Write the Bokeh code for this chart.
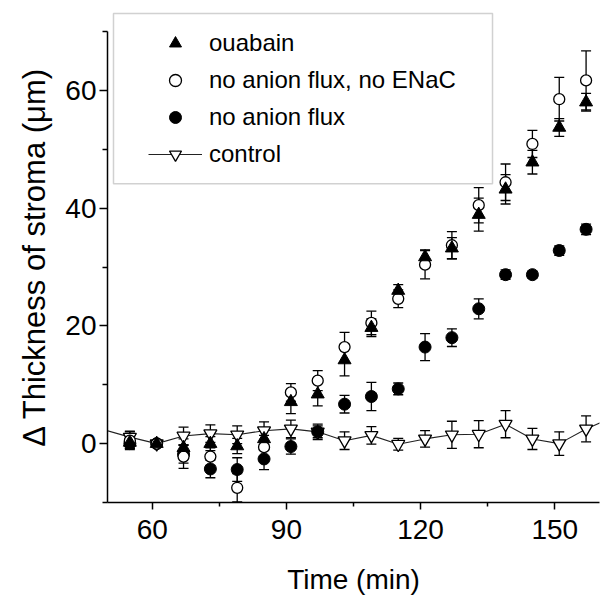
from bokeh.plotting import figure
from bokeh.models import (Range1d, FixedTicker, Whisker, TeeHead, ColumnDataSource,
                          Legend, LegendItem, BoxAnnotation)
from bokeh.embed import file_html
from bokeh.resources import INLINE

# ---- data ----
times = [55, 61, 67, 73, 79, 85, 91, 97, 103, 109, 115, 121, 127, 133, 139, 145, 151, 157]

ouabain = [0.2, 0.0, -0.7, 0.0, -0.4, 0.8, 7.1, 8.4, 14.2, 19.7, 26.0, 31.7, 33.2, 38.9, 43.2, 47.8, 53.7, 58.0]
ouabain_err = [1.0, 0.5, 1.5, 1.2, 1.3, 1.5, 2.0, 2.0, 2.7, 1.5, 1.0, 1.2, 1.8, 2.8, 2.5, 2.0, 1.5, 1.5]

no_anion_no_enac = [0.5, 0.0, -2.2, -2.2, -7.5, -0.6, 8.7, 10.7, 16.4, 20.5, 24.6, 30.4, 33.7, 40.5, 44.4, 50.9, 58.5, 61.7]
no_anion_no_enac_err = [1.5, 0.5, 2.0, 1.5, 2.4, 2.0, 1.5, 1.7, 2.5, 2.0, 1.5, 2.4, 2.3, 3.0, 3.1, 2.3, 3.7, 5.0]

no_anion = [0.0, 0.0, -1.8, -4.3, -4.4, -2.6, -0.5, 2.0, 6.7, 8.0, 9.3, 16.4, 18.0, 22.9, 28.7, 28.7, 32.8, 36.4]
no_anion_err = [0.8, 0.5, 1.5, 1.5, 2.0, 1.8, 1.3, 1.0, 1.5, 2.4, 1.0, 2.3, 1.5, 1.7, 0.8, 0.6, 0.8, 0.9]

control = [1.1, 0.0, 1.3, 1.7, 1.5, 2.2, 2.5, 2.0, 0.5, 1.4, -0.1, 0.8, 1.5, 1.6, 3.3, 0.8, 0.0, 2.5]
control_err = [1.0, 0.5, 1.5, 1.5, 1.5, 1.5, 1.5, 1.3, 1.5, 1.5, 1.0, 1.4, 2.3, 2.3, 2.3, 1.8, 2.0, 2.2]
# the control trace continues beyond the axis limits on both sides
control_line_times = [49] + times + [163]
control_line = [2.4] + control + [4.5]

labels = ["ouabain", "no anion flux, no ENaC", "no anion flux", "control"]
x_ticks = [60, 90, 120, 150]
x_minor = [75, 105, 135]
y_ticks = [0, 20, 40, 60]
y_minor = [-10, 10, 30, 50, 70]
x_lim = (50, 160)
y_lim = (-10, 70)

FONT = "Liberation Sans"

p = figure(width=606, height=606, output_backend="svg", toolbar_location=None,
           x_range=Range1d(*x_lim), y_range=Range1d(y_lim[0], 73.4),
           min_border_left=107, min_border_right=7, min_border_top=11, min_border_bottom=104)
p.outline_line_color = None
p.xgrid.visible = False
p.ygrid.visible = False
p.background_fill_color = "white"

for ax in (p.xaxis[0], p.yaxis[0]):
    ax.axis_line_width = 1.5
    ax.axis_line_color = "black"
    ax.major_tick_line_color = "black"
    ax.minor_tick_line_color = "black"
    ax.major_tick_line_width = 1.5
    ax.minor_tick_line_width = 1.5
    ax.major_tick_in = 0
    ax.minor_tick_in = 0
    ax.major_label_text_font = FONT
    ax.major_label_text_font_size = "28px"
    ax.major_label_text_color = "black"
    ax.axis_label_text_font = FONT
    ax.axis_label_text_font_style = "normal"
    ax.axis_label_text_color = "black"

p.xaxis.ticker = FixedTicker(ticks=x_ticks, minor_ticks=x_minor)
p.yaxis.ticker = FixedTicker(ticks=y_ticks, minor_ticks=y_minor)
p.yaxis.bounds = y_lim
p.xaxis.major_tick_out = 7
p.xaxis.minor_tick_out = 4
p.yaxis.major_tick_out = 8
p.yaxis.minor_tick_out = 5
p.xaxis.major_label_standoff = 10
p.yaxis.major_label_standoff = 3
p.xaxis.axis_label = "Time (min)"
p.xaxis.axis_label_text_font_size = "28px"
p.xaxis.axis_label_standoff = 22
p.yaxis.axis_label = "\u0394 Thickness of stroma (\u03bcm)"
p.yaxis.axis_label_text_font_size = "31px"
p.yaxis.axis_label_standoff = 10

def src(vals, errs):
    return ColumnDataSource(dict(x=times, y=vals,
                                 upper=[v + e for v, e in zip(vals, errs)],
                                 lower=[v - e for v, e in zip(vals, errs)]))

s_ctrl = src(control, control_err)
s_fill = src(no_anion, no_anion_err)
s_open = src(no_anion_no_enac, no_anion_no_enac_err)
s_oua = src(ouabain, ouabain_err)

for s in (s_ctrl, s_fill, s_open, s_oua):
    w = Whisker(source=s, base="x", upper="upper", lower="lower",
                line_color="black", line_width=1.3,
                upper_head=TeeHead(size=10, line_color="black", line_width=1.3),
                lower_head=TeeHead(size=10, line_color="black", line_width=1.3))
    p.add_layout(w)

r_ctrl_line = p.line(control_line_times, control_line, line_color="#222222", line_width=1.1)
r_ctrl = p.scatter("x", "y", source=s_ctrl, marker="inverted_triangle", size=13,
                   fill_color="white", line_color="black", line_width=1.3)
r_fill = p.scatter("x", "y", source=s_fill, marker="circle", size=12,
                   fill_color="black", line_color="black")
r_open = p.scatter("x", "y", source=s_open, marker="circle", size=11,
                   fill_color="white", line_color="black", line_width=1.3)
r_oua = p.scatter("x", "y", source=s_oua, marker="triangle", size=13,
                  fill_color="black", line_color="black")

box = BoxAnnotation(left=51.34, right=136.08, top=73.06, bottom=44.16,
                    fill_alpha=0, line_color="#666666", line_width=1.5)
p.add_layout(box)

legend = Legend(items=[
    LegendItem(label=labels[0], renderers=[r_oua]),
    LegendItem(label=labels[1], renderers=[r_open]),
    LegendItem(label=labels[2], renderers=[r_fill]),
    LegendItem(label=labels[3], renderers=[r_ctrl_line, r_ctrl]),
], location=(41, 333), border_line_color=None, background_fill_alpha=0,
   padding=0, margin=0, spacing=7, glyph_width=54, glyph_height=30,
   label_height=30, label_standoff=7, label_text_font=FONT,
   label_text_font_size="24px", label_text_color="black")
p.add_layout(legend)

open("out.html", "w").write(file_html(p, INLINE))
